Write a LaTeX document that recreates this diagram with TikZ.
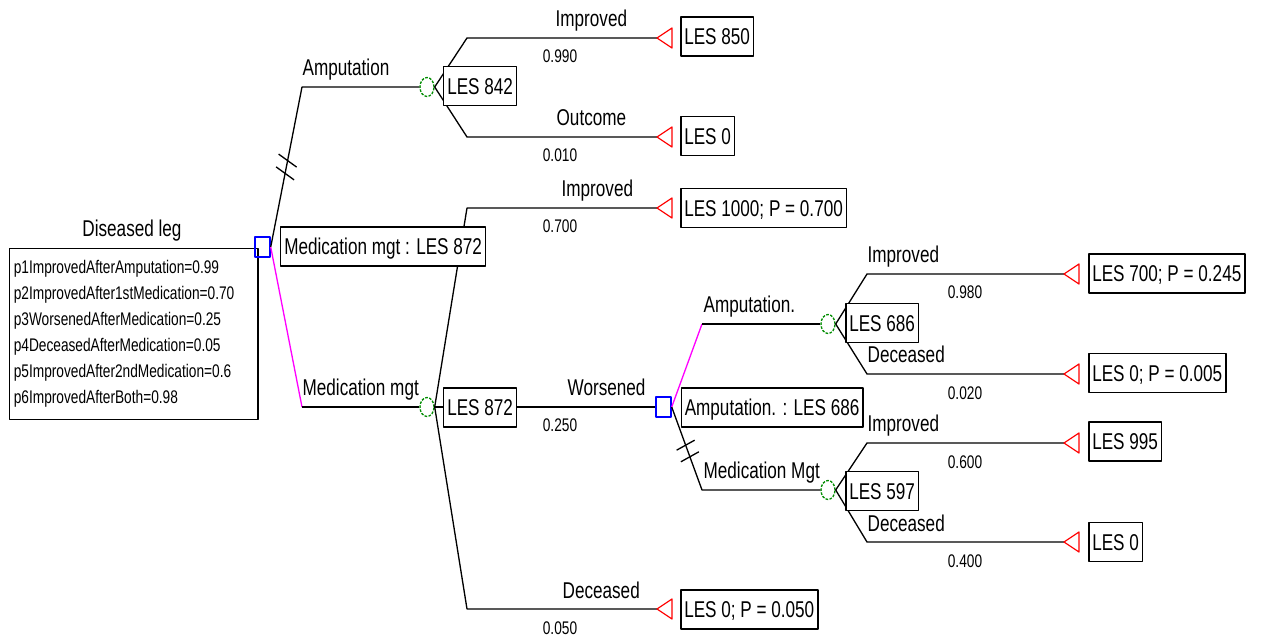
\documentclass[tikz,border=0pt]{standalone}
\usepackage{fontspec}
\setmainfont{Liberation Sans}[FakeStretch=0.75]
\usetikzlibrary{shapes.geometric,calc}

\definecolor{bestline}{RGB}{255,0,255}
\definecolor{decblue}{RGB}{0,0,255}
\definecolor{chgreen}{RGB}{0,140,0}
\definecolor{leafred}{RGB}{255,0,0}

\newcommand{\bigtxt}{\fontsize{13}{15}\selectfont}
\newcommand{\smalltxt}{\fontsize{10.4}{14.8}\selectfont}

\tikzset{endtri/.pic={\draw[leafred, line width=0.7pt] (0,0) -- (15,-10) -- (15,10) -- cycle;}}

\begin{document}
\begin{tikzpicture}[x=0.02cm, y=-0.02cm, line width=0.75pt, line join=round]
	\tikzstyle{decision} = [draw=decblue, line width=0.85pt, minimum width=8.5pt, minimum height=11.4pt, inner sep=0pt];
	\tikzstyle{chance} = [ellipse, draw=chgreen, dash pattern=on 1.5pt off 0.8pt, minimum width=8pt, minimum height=10.8pt, inner sep=0pt];
	\tikzstyle{value} = [draw, fill=white, line width=0.85pt, anchor=west, font=\bigtxt, inner xsep=2pt, inner ysep=0pt, minimum height=22pt, text height=9.3pt, text depth=0pt];
	\tikzstyle{branch} = [draw=black];
	\tikzstyle{best} = [draw=bestline];
	\tikzstyle{lab} = [anchor=base west, font=\bigtxt, inner sep=0pt];
	\tikzstyle{prob} = [anchor=base, font=\smalltxt, inner sep=0pt];
	\tikzstyle{cutmark} = [draw=black];

	\useasboundingbox (0,0) rectangle (1261,638);

	% root
	\node[anchor=base, font=\bigtxt, inner sep=0pt] (dleg) at (132,237) {Diseased leg};
	\node[draw, line width=0.85pt, anchor=north west, font=\smalltxt, align=left, text width=136.6pt, inner xsep=2.3pt, inner ysep=0pt, minimum height=97.3pt] (params) at (9,248)
		{p1ImprovedAfterAmputation=0.99\\
		 p2ImprovedAfter1stMedication=0.70\\
		 p3WorsenedAfterMedication=0.25\\
		 p4DeceasedAfterMedication=0.05\\
		 p5ImprovedAfter2ndMedication=0.6\\
		 p6ImprovedAfterBoth=0.98};
	\node[decision] (d0) at (262.5,247) {};

	\node[chance] (c1) at (427,87) {};
	\node[chance] (c2) at (427,407) {};
	\node[decision] (d1) at (663.5,407) {};
	\node[chance] (c3) at (828,324) {};
	\node[chance] (c4) at (828,490) {};

	% corners and leaf tips
	\coordinate (k1) at (302,87);
	\coordinate (k2) at (302,407);
	\coordinate (k3) at (467,38);
	\coordinate (k4) at (467,137);
	\coordinate (k5) at (467,208);
	\coordinate (k6) at (467,609);
	\coordinate (k7) at (702,324);
	\coordinate (k8) at (702,490);
	\coordinate (k9) at (867,274);
	\coordinate (k10) at (867,374);
	\coordinate (k11) at (867,443);
	\coordinate (k12) at (867,542);

	\coordinate (t1) at (657,38);
	\coordinate (t2) at (657,137);
	\coordinate (t3) at (657,208);
	\coordinate (t4) at (657,609);
	\coordinate (t5) at (1064,274);
	\coordinate (t6) at (1064,374);
	\coordinate (t7) at (1064,443);
	\coordinate (t8) at (1064,542);

	% branches
	\path[branch] (d0.east) -- (k1) -- (c1.west);
	\path[best] (d0.east) -- (k2);
	\path[branch] (k2) -- (c2.west);
	\path[branch] (c1.east) -- (k3) -- (t1);
	\path[branch] (c1.east) -- (k4) -- (t2);
	\path[branch] (c2.east) -- (k5) -- (t3);
	\path[branch] (c2.east) -- (d1.west);
	\path[branch] (c2.east) -- (k6) -- (t4);
	\path[best] (d1.east) -- (k7);
	\path[branch] (k7) -- (c3.west);
	\path[branch] (d1.east) -- (k8) -- (c4.west);
	\path[branch] (c3.east) -- (k9) -- (t5);
	\path[branch] (c3.east) -- (k10) -- (t6);
	\path[branch] (c4.east) -- (k11) -- (t7);
	\path[branch] (c4.east) -- (k12) -- (t8);

	\path[cutmark] ($(d0.east)!.54!(k1)$) +(-9,-6.5) -- +(9,6.5);
	\path[cutmark] ($(d0.east)!.46!(k1)$) +(-9,-6.5) -- +(9,6.5);
	\path[cutmark] ($(d1.east)!.46!(k8)$) +(-9,5) -- +(9,-5);
	\path[cutmark] ($(d1.east)!.6!(k8)$) +(-9,5) -- +(9,-5);

	\foreach \t in {t1,t2,t3,t4,t5,t6,t7,t8}
		\pic at (\t) {endtri};

	% branch labels
	\node[lab] (lamp) at (302,76) {Amputation};
	\node[lab] (lmed) at (302,396) {Medication mgt};
	\node[lab] (limp1) at (555,27) {Improved};
	\node[lab] (lout) at (556,126) {Outcome};
	\node[lab] (limp2) at (561,197) {Improved};
	\node[lab] (lwor) at (567,396) {Worsened};
	\node[lab] (ldec1) at (562,598) {Deceased};
	\node[lab] (lamp2) at (703,313) {Amputation.};
	\node[lab] (lmed2) at (703,479) {Medication Mgt};
	\node[lab] (limp3) at (867,263) {Improved};
	\node[lab] (ldec2) at (867,363) {Deceased};
	\node[lab] (limp4) at (867,432) {Improved};
	\node[lab] (ldec3) at (867,531) {Deceased};

	\node[prob] (p1) at (560,63) {0.990};
	\node[prob] (p2) at (560,162) {0.010};
	\node[prob] (p3) at (560,233) {0.700};
	\node[prob] (p4) at (560,432) {0.250};
	\node[prob] (p5) at (560,634) {0.050};
	\node[prob] (p6) at (965,299) {0.980};
	\node[prob] (p7) at (965,399) {0.020};
	\node[prob] (p8) at (965,468) {0.600};
	\node[prob] (p9) at (965,567) {0.400};

	% values
	\node[value] (v0) at (280,246.5) {Medication mgt : LES 872};
	\node[value] (v1) at (443,86) {LES 842};
	\node[value] (v2) at (443,407.5) {LES 872};
	\node[value] (v3) at (680.5,407.5) {Amputation. : LES 686};
	\node[value] (v4) at (845,323) {LES 686};
	\node[value] (v5) at (845,491) {LES 597};

	\node[value] (e1) at (680,36.5) {LES 850};
	\node[value] (e2) at (680,136) {LES 0};
	\node[value] (e3) at (680,208) {LES 1000; P = 0.700};
	\node[value] (e4) at (680,609.5) {LES 0; P = 0.050};
	\node[value] (e5) at (1088,273.5) {LES 700; P = 0.245};
	\node[value] (e6) at (1088,373) {LES 0; P = 0.005};
	\node[value] (e7) at (1088,441.5) {LES 995};
	\node[value] (e8) at (1088,542) {LES 0};
\end{tikzpicture}
\end{document}
